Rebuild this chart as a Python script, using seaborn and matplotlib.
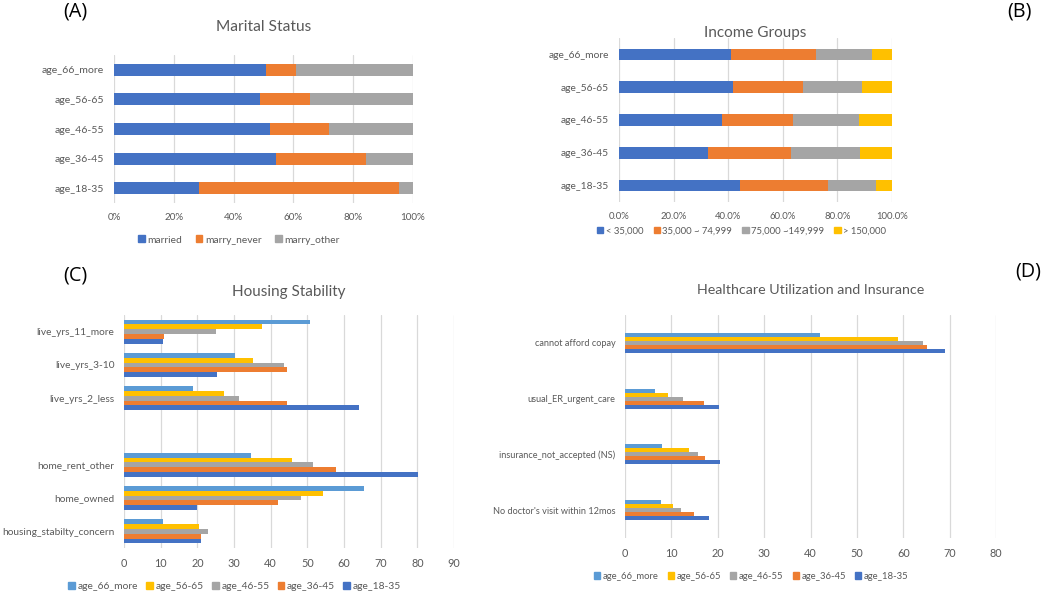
import numpy as np
import pandas as pd
import matplotlib
matplotlib.use('Agg')
import matplotlib.pyplot as plt
import seaborn as sns
from matplotlib.patches import Patch
from matplotlib.ticker import FuncFormatter, MultipleLocator

sns.set_theme(style='white')
plt.rcParams['font.family'] = ['Lato', 'DejaVu Sans']

# ---------------- data ----------------
age_groups = ['age_66_more', 'age_56-65', 'age_46-55', 'age_36-45', 'age_18-35']

# (A) Marital status, % (stacked to 100)
married = [50.7, 48.8, 52.3, 54.1, 28.4]
marry_never = [10.1, 16.9, 19.6, 30.1, 66.9]
marry_other = [39.2, 34.3, 28.1, 15.8, 4.7]

# (B) Income groups, % (stacked to 100)
inc_lt_35k = [41.1, 41.6, 37.9, 32.5, 44.4]
inc_35k_75k = [31.1, 25.8, 26.0, 30.6, 32.1]
inc_75k_150k = [20.6, 21.6, 24.1, 25.3, 17.6]
inc_gt_150k = [7.2, 11.0, 12.0, 11.6, 5.9]
income_labels = ['< 35,000', '35,000 ~ 74,999', '75,000 ~149,999', '> 150,000']

# (C) Housing stability
housing_cats = ['live_yrs_11_more', 'live_yrs_3-10', 'live_yrs_2_less',
                'home_rent_other', 'home_owned', 'housing_stabilty_concern']
housing_66_more = [50.8, 30.3, 18.8, 34.5, 65.5, 10.5]
housing_56_65 = [37.5, 35.3, 27.2, 45.7, 54.3, 20.4]
housing_46_55 = [25.0, 43.7, 31.3, 51.6, 48.3, 22.9]
housing_36_45 = [10.9, 44.5, 44.4, 57.9, 42.1, 21.1]
housing_18_35 = [10.5, 25.3, 64.1, 80.1, 19.9, 21.0]

# (D) Healthcare utilization and insurance
health_cats = ['cannot afford copay', 'usual_ER_urgent_care',
               'insurance_not_accepted (NS)', "No doctor's visit within 12mos"]
health_66_more = [42.1, 6.5, 7.9, 7.8]
health_56_65 = [58.9, 9.2, 13.8, 10.3]
health_46_55 = [64.3, 12.6, 15.8, 12.1]
health_36_45 = [65.2, 17.0, 17.2, 14.8]
health_18_35 = [69.0, 20.2, 20.5, 18.1]

# ---------------- style ----------------
BLUE, ORANGE, GRAY, GOLD, LBLUE = '#4472C4', '#ED7D31', '#A5A5A5', '#FFC000', '#5B9BD5'
age_palette = dict(zip(age_groups, [LBLUE, GOLD, GRAY, ORANGE, BLUE]))
TXT = '#595959'
GRID = '#D9D9D9'

fig = plt.figure(figsize=(10.52, 5.94), dpi=100)
renderer = fig.canvas.get_renderer()


def fit_fs(s, target_px, family=None):
    kw = {} if family is None else {'family': family}
    t = fig.text(0, 0, s, fontsize=10, **kw)
    w = t.get_window_extent(renderer).width
    t.remove()
    return 10.0 * target_px / w


def style_axis(ax, yfs, xfs):
    for s in ax.spines.values():
        s.set_visible(False)
    ax.grid(axis='x', color=GRID, lw=0.9)
    ax.grid(axis='y', visible=False)
    ax.set_axisbelow(True)
    ax.tick_params(axis='both', length=0, labelcolor=TXT)
    ax.tick_params(axis='y', labelsize=yfs, pad=7)
    ax.tick_params(axis='x', labelsize=xfs, pad=7)
    ax.set_xlabel('')
    ax.set_ylabel('')


def stacked(ax, series, colors, width):
    cum = np.cumsum(np.array(series, dtype=float), axis=0)
    for vals, col in reversed(list(zip(cum, colors))):
        sns.barplot(x=list(vals), y=age_groups, order=age_groups, orient='h',
                    color=col, saturation=1, width=width, errorbar=None,
                    linewidth=0, ax=ax)


def make_legend(ax, handles, x, y, fs, ncol, colsp):
    ax.legend(handles=handles, loc='center', bbox_to_anchor=(x, y),
              bbox_transform=fig.transFigure, ncol=ncol, frameon=False,
              fontsize=fs, labelcolor=TXT, handlelength=0.65, handleheight=0.65,
              handletextpad=0.25, columnspacing=colsp)


# (A)
axA = fig.add_axes([0.1084, 0.6582, 0.2842, 0.2492])
stacked(axA, [married, marry_never, marry_other], [BLUE, ORANGE, GRAY], 0.4)
axA.set_xlim(0, 100)
axA.xaxis.set_major_locator(MultipleLocator(20))
axA.xaxis.set_major_formatter(FuncFormatter(lambda v, p: f'{v:.0f}%'))
style_axis(axA, fit_fs('age_66_more', 62), fit_fs('100%', 25))
axA.set_title('Marital Status', fontsize=fit_fs('Marital Status', 95), color=TXT, pad=17)
make_legend(axA, [Patch(color=c, label=l) for c, l in
                  zip([BLUE, ORANGE, GRAY], ['married', 'marry_never', 'marry_other'])],
            0.227, 0.596, fit_fs('marry_never', 57), 3, 1.3)

# (B)
axB = fig.add_axes([0.5884, 0.66, 0.2595, 0.276])
stacked(axB, [inc_lt_35k, inc_35k_75k, inc_75k_150k, inc_gt_150k], [BLUE, ORANGE, GRAY, GOLD], 0.36)
axB.set_xlim(0, 100)
axB.xaxis.set_major_locator(MultipleLocator(20))
axB.xaxis.set_major_formatter(FuncFormatter(lambda v, p: f'{v:.1f}%'))
style_axis(axB, fit_fs('age_66_more', 61), fit_fs('100.0%', 32))
axB.set_title('Income Groups', fontsize=fit_fs('Income Groups', 102), color=TXT, pad=1)
make_legend(axB, [Patch(color=c, label=l) for c, l in
                  zip([BLUE, ORANGE, GRAY, GOLD], income_labels)],
            0.705, 0.611, fit_fs('35,000 ~ 74,999', 69), 4, 1.1)


def grouped(ax, cats, order, series, width):
    rows = []
    for g, vals in zip(age_groups, series):
        for c, v in zip(cats, vals):
            rows.append({'cat': c, 'age': g, 'value': v})
    df = pd.DataFrame(rows)
    sns.barplot(data=df, x='value', y='cat', hue='age', order=order, hue_order=age_groups,
                palette=age_palette, orient='h', saturation=1, width=width, gap=0,
                errorbar=None, linewidth=0, ax=ax, legend=False)


age_handles = [Patch(color=age_palette[g], label=g) for g in age_groups]

# (C)
axC = fig.add_axes([0.1179, 0.0774, 0.3137, 0.3923])
order_C = housing_cats[:3] + [' '] + housing_cats[3:]
grouped(axC, housing_cats, order_C,
        [housing_66_more, housing_56_65, housing_46_55, housing_36_45, housing_18_35], 0.72)
axC.set_xlim(0, 90)
axC.xaxis.set_major_locator(MultipleLocator(10))
style_axis(axC, fit_fs('housing_stabilty_concern', 112), fit_fs('80', 12.5))
axC.set_title('Housing Stability', fontsize=fit_fs('Housing Stability', 114), color=TXT, pad=14)
make_legend(axC, age_handles, 0.223, 0.012, fit_fs('age_66_more', 61), 5, 0.8)

# (D)
axD = fig.add_axes([0.5941, 0.0943, 0.3527, 0.3754])
grouped(axD, health_cats, health_cats,
        [health_66_more, health_56_65, health_46_55, health_36_45, health_18_35], 0.36)
axD.set_xlim(0, 80)
axD.xaxis.set_major_locator(MultipleLocator(10))
style_axis(axD, fit_fs("No doctor's visit within 12mos", 122), fit_fs('80', 12.5))
axD.set_title('Healthcare Utilization and Insurance',
              fontsize=fit_fs('Healthcare Utilization and Insurance', 226), color=TXT, pad=15)
make_legend(axD, age_handles, 0.714, 0.030, fit_fs('age_66_more', 56), 5, 1.0)

# panel letters
LET_FAM = ['Open Sans', 'DejaVu Sans']
let_fs = fit_fs('(A)', 24, LET_FAM)
for lbl, x, y in [('(A)', 75, 11), ('(B)', 1019, 11), ('(C)', 75, 276), ('(D)', 1028, 271)]:
    fig.text(x / 1052, 1 - y / 594, lbl, fontsize=let_fs, color='black',
             ha='center', va='center', family=LET_FAM)

fig.savefig('out.png', dpi=100)
